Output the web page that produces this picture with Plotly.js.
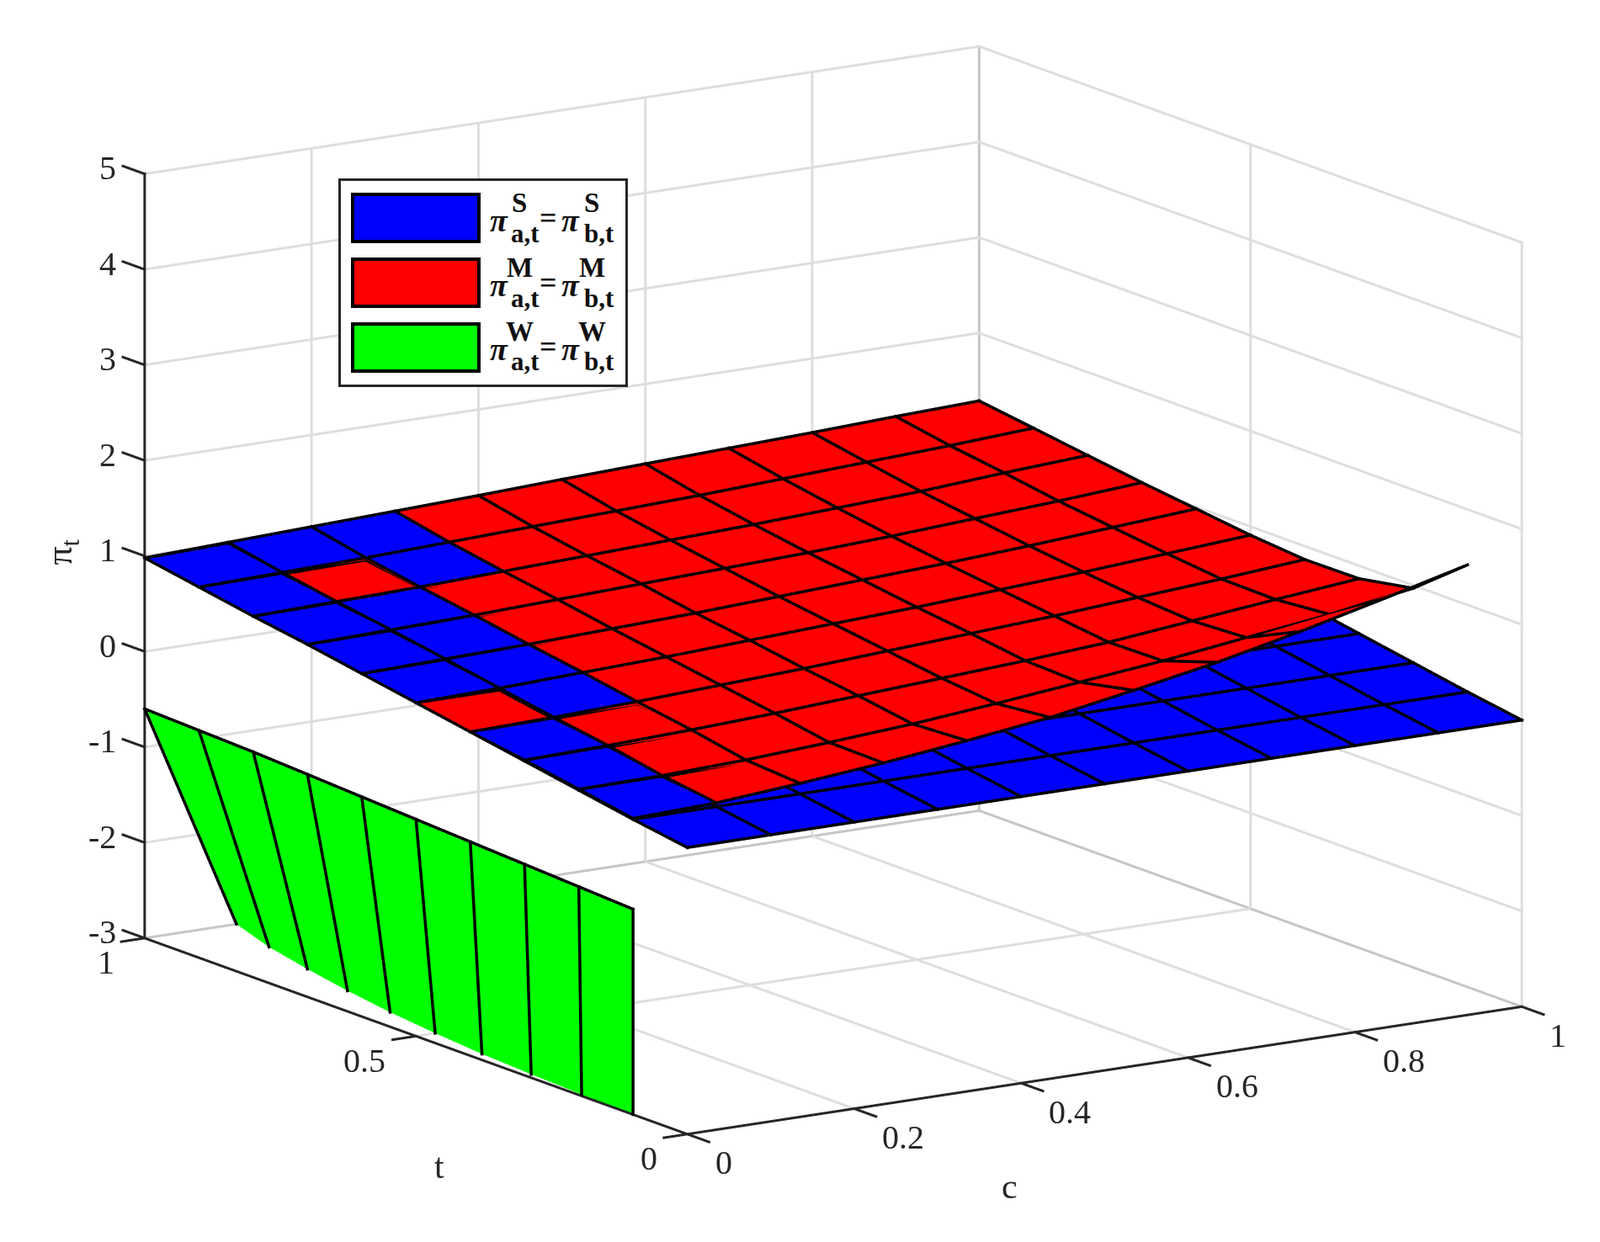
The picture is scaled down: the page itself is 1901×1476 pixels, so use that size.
<!DOCTYPE html>
<html><head><meta charset="utf-8">
<script src="https://cdn.plot.ly/plotly-3.0.1.min.js"></script>
<style>html,body{margin:0;padding:0;background:#fff}#g{width:1901px;height:1476px}</style>
</head><body><div id="g"></div>
<script>
const cVals=[0,0.1,0.2,0.3,0.4,0.5,0.6,0.7,0.8,0.9,1];
const tValsBlue=[0,0.1,0.2,0.3,0.4,0.5,0.6,0.7,0.8,0.9,1];
const tValsRed=[0.1,0.2,0.3,0.4,0.5,0.6,0.7,0.8,0.9,1];
const tValsGreen=[0.1,0.2,0.3,0.4,0.5,0.6,0.7,0.8,0.9,1];
const blueByT=[0,0.09,0.19,0.29,0.39,0.49,0.59,0.69,0.78,0.88,0.98];
const redZ=[
[0.10,0.13,0.20,0.28,0.38,0.49,0.64,0.80,0.99,1.20,1.42],
[0.20,0.21,0.24,0.29,0.35,0.43,0.52,0.61,0.72,0.83,0.97],
[0.30,0.32,0.35,0.39,0.44,0.49,0.54,0.60,0.69,0.78,0.865],
[0.39,0.41,0.44,0.48,0.52,0.57,0.62,0.67,0.73,0.79,0.86],
[0.49,0.51,0.54,0.57,0.61,0.65,0.69,0.74,0.79,0.85,0.91],
[0.59,0.61,0.63,0.66,0.69,0.73,0.77,0.81,0.86,0.92,0.98],
[0.69,0.71,0.73,0.76,0.79,0.82,0.85,0.89,0.94,0.99,1.05],
[0.78,0.80,0.82,0.85,0.88,0.91,0.94,0.98,1.02,1.08,1.13],
[0.88,0.90,0.92,0.95,0.98,1.01,1.04,1.08,1.12,1.16,1.21],
[0.98,1.01,1.04,1.07,1.10,1.135,1.165,1.195,1.225,1.26,1.29]];
// cells [cIndex, tIndex of lower t] where the blue surface shows above the red one
const blueTopCells=[[0,9],[1,9],[2,9],[0,8],[2,8],[0,7],[1,7],[0,6],[1,6],[0,5],[1,5],[1,4],[0,3],[0,2],[0,1]];
const greenZTop=[-0.85,-0.82,-0.79,-0.76,-0.73,-0.70,-0.67,-0.64,-0.62,-0.60];
const greenCBottom=[0,0.0034,0.008,0.014,0.023,0.034,0.048,0.065,0.084,0.11];
const greenZBottom=-3;
const cTicks=[0,0.2,0.4,0.6,0.8,1];
const tTicks=[0,0.5,1];
const zTicks=[-3,-2,-1,0,1,2,3,4,5];
const cLim=[0,1],tLim=[0,1],zLim=[-3,5];

// linear view of the 3D box, used only to give lines a constant on-screen width
const R=[7.08e-4,-4.62e-4,0],U=[0,0,1/113.6],V=[-0.53,-0.815,2.38];
const toScreen=(a,b)=>[990*(b[0]-a[0])-647*(b[1]-a[1]),152*(b[0]-a[0])+233*(b[1]-a[1])+113.6*(b[2]-a[2])];
const lit={ambient:1,diffuse:0,specular:0,roughness:1,fresnel:0};
function ribbon(segs,w,col,lift){
  const x=[],y=[],z=[],i=[],j=[],k=[];
  segs.forEach(([a,b])=>{
    const s=toScreen(a,b),n=Math.hypot(s[0],s[1])||1,ux=s[0]/n,uy=s[1]/n,h=w/2;
    const off=(sx,sy)=>[0,1,2].map(q=>R[q]*sx+U[q]*sy+V[q]*lift);
    const base=x.length;
    const along=[-h*ux,-h*uy],alongB=[h*ux,h*uy],nor=[-uy*h,ux*h];
    [[a,along,1],[a,along,-1],[b,alongB,-1],[b,alongB,1]].forEach(([p,e,sg])=>{
      const o=off(e[0]+sg*nor[0],e[1]+sg*nor[1]);
      x.push(p[0]+o[0]);y.push(p[1]+o[1]);z.push(p[2]+o[2]);
    });
    i.push(base,base);j.push(base+1,base+2);k.push(base+2,base+3);
  });
  return {type:'mesh3d',x,y,z,i,j,k,color:col,flatshading:true,lighting:lit,hoverinfo:'skip',showlegend:false};
}
function gridSegs(X,Y,Z,skipLastCol){
  const out=[],Rn=Z.length,Cn=Z[0].length;
  for(let r=0;r<Rn;r++)for(let q=0;q+1<Cn;q++)out.push([[X[r][q],Y[r][q],Z[r][q]],[X[r][q+1],Y[r][q+1],Z[r][q+1]]]);
  for(let q=0;q<Cn-(skipLastCol?1:0);q++)for(let r=0;r+1<Rn;r++)out.push([[X[r][q],Y[r][q],Z[r][q]],[X[r+1][q],Y[r+1][q],Z[r+1][q]]]);
  return out;
}
const flat=c=>[[0,c],[1,c]];
function surf(x,y,z,col,name){return {type:'surface',x,y,z,name,colorscale:flat(col),showscale:false,lighting:lit,hoverinfo:'skip',cmin:-10,cmax:10};}

const bz=tValsBlue.map((_,i)=>cVals.map(()=>blueByT[i]));
const bx=tValsBlue.map(()=>cVals.slice());
const by=tValsBlue.map(t=>cVals.map(()=>t));
const rx=tValsRed.map(()=>cVals.slice());
const ry=tValsRed.map(t=>cVals.map(()=>t));
const gx=greenCBottom.map(c=>[0,c]);
const gy=tValsGreen.map(t=>[t,t]);
const gz=greenZTop.map(z=>[z,greenZBottom]);
// blue cells on top
const mx=[],my=[],mz=[],mi=[],mj=[],mk=[];
const cellLift=0.006;
blueTopCells.forEach(([ci,ti])=>{
  const b=mx.length;
  [[ci,ti],[ci+1,ti],[ci+1,ti+1],[ci,ti+1]].forEach(([a,d])=>{
    const zz=Math.max(blueByT[d],d>0?redZ[d-1][a]:0);
    mx.push(cVals[a]+V[0]*cellLift);my.push(tValsBlue[d]+V[1]*cellLift);mz.push(zz+V[2]*cellLift);});
  mi.push(b,b);mj.push(b+1,b+2);mk.push(b+2,b+3);
});
// walls, floor, axes
const gridSegsAll=[];
cTicks.forEach(c=>{gridSegsAll.push([[c,tLim[0],zLim[0]],[c,tLim[1],zLim[0]]],[[c,tLim[1],zLim[0]],[c,tLim[1],zLim[1]]]);});
tTicks.forEach(t=>{gridSegsAll.push([[cLim[0],t,zLim[0]],[cLim[1],t,zLim[0]]],[[cLim[1],t,zLim[0]],[cLim[1],t,zLim[1]]]);});
zTicks.forEach(z=>{gridSegsAll.push([[cLim[0],tLim[1],z],[cLim[1],tLim[1],z]],[[cLim[1],tLim[1],z],[cLim[1],tLim[0],z]]);});
const edgeSegs=[
 [[cLim[0],tLim[1],zLim[0]],[cLim[1],tLim[1],zLim[0]]],
 [[cLim[1],tLim[0],zLim[0]],[cLim[1],tLim[1],zLim[0]]],
 [[cLim[1],tLim[1],zLim[0]],[cLim[1],tLim[1],zLim[1]]]];
const axisSegs=[
 [[cLim[0],tLim[0],zLim[0]],[cLim[1],tLim[0],zLim[0]]],
 [[cLim[0],tLim[0],zLim[0]],[cLim[0],tLim[1],zLim[0]]],
 [[cLim[0],tLim[1],zLim[0]],[cLim[0],tLim[1],zLim[1]]]];
const tickSegs=[];
cTicks.forEach(c=>tickSegs.push([[c,tLim[0],zLim[0]],[c,tLim[0]-0.04,zLim[0]]]));
tTicks.forEach(t=>tickSegs.push([[cLim[0],t,zLim[0]],[cLim[0]-0.028,t,zLim[0]]]));
zTicks.forEach(z=>tickSegs.push([[cLim[0],tLim[1],z],[cLim[0],tLim[1]+0.04,z]]));

const data=[
 ribbon(gridSegsAll,3,'#dedede',0),
 ribbon(edgeSegs,3,'#c6c6c6',0.001),
 surf(bx,by,bz,'#0000ff','blue'),
 surf(rx,ry,redZ.map(r=>r.map(v=>v+0.004)),'#ff0000','red'),
 {type:'mesh3d',x:mx,y:my,z:mz,i:mi,j:mj,k:mk,color:'#0000ff',flatshading:true,lighting:lit,hoverinfo:'skip'},
 surf(gx,gy,gz,'#00ff00','green'),
 ribbon(gridSegs(bx,by,bz),3.5,'#000',0.012),
 ribbon(gridSegs(rx,ry,redZ),3.5,'#000',0.02),
 ribbon(gridSegs(gx,gy,gz,true),3.5,'#000',0.012),
 ribbon(axisSegs,3,'#262626',0.004),
 ribbon(tickSegs,3,'#262626',0.004)
];
const ax=(rng,tv)=>({range:rng,autorange:false,tickmode:'array',tickvals:tv,ticktext:tv.map(String),
 title:{text:''},showticklabels:false,showgrid:false,zeroline:false,showline:false,ticks:'',showbackground:false,showspikes:false});
const W=1901,H=1476;
const FONT='Liberation Serif';
const ann=[];
const px=(x,y)=>({xref:'paper',yref:'paper',x:x/W,y:1-y/H});
function box(x0,y0,x1,y1,bg,bc,bw){ann.push(Object.assign(px((x0+x1)/2,(y0+y1)/2),{text:'',showarrow:false,width:x1-x0-bw,height:y1-y0-bw,bgcolor:bg,bordercolor:bc,borderwidth:bw,xanchor:'center',yanchor:'middle',borderpad:0}));}
function txt(x,y,t,sz,col){ann.push(Object.assign(px(x,y),{text:t,showarrow:false,xanchor:'center',yanchor:'middle',font:{family:FONT,size:sz,color:col||'#262626'}}));}
box(403,213,744,458,'#fff','#262626',3);
box(419,231,569,287,'#0000ff','#000',4);
box(419,308,569,364,'#ff0000','#000',4);
box(419,385,569,441,'#00ff00','#000',4);
[['S',262],['M',339],['W',415]].forEach(([s,y])=>{
 const k='#111';
 txt(593,y,'<b><i>π</i></b>',38,k);txt(617,y-21,'<b>'+s+'</b>',33,k);txt(624,y+15,'<b>a,t</b>',31,k);txt(651,y-3,'<b>=</b>',36,k);
 txt(678,y,'<b><i>π</i></b>',38,k);txt(703,y-21,'<b>'+s+'</b>',33,k);txt(712,y+15,'<b>b,t</b>',31,k);
});
const sa=[];
const lab=(x,y,z,text,anchor,xs,ys,sz)=>sa.push({x,y,z,text,showarrow:false,xanchor:anchor,yanchor:'middle',xshift:xs,yshift:ys,font:{family:FONT,size:sz,color:'#262626'}});
cTicks.forEach(c=>lab(c,tLim[0],zLim[0],String(c),'left',31,-34,40));
tTicks.forEach(t=>lab(cLim[0],t,zLim[0],String(t),'right',-34,-29,40));
zTicks.forEach(z=>lab(cLim[0],tLim[1],z,String(z),'right',-32,7,40));
lab(0.5,tLim[0],zLim[0],'c','center',-113,-138,42);
lab(cLim[0],0.5,zLim[0],'t','center',28,-155,42);
sa.push({x:cLim[0],y:tLim[1],z:1,text:'π<sub>t</sub>',showarrow:false,textangle:-90,xanchor:'center',yanchor:'middle',xshift:-98,yshift:5,font:{family:FONT,size:44,color:'#262626'}});
const d=[-0.530,-0.815,0.235],L=1.182;
const Z=1.686;
const layout={width:W,height:H,margin:{l:0,r:0,t:0,b:0},paper_bgcolor:'#fff',showlegend:false,annotations:ann,
 scene:{domain:{x:[0.0416,1],y:[0.0496,1]},aspectmode:'manual',aspectratio:{x:1.1*Z,y:1.1*Z,z:0.80975*Z},annotations:sa,
  camera:{projection:{type:'orthographic'},eye:{x:d[0]*L,y:d[1]*L,z:d[2]*L},center:{x:0,y:0,z:0},up:{x:0,y:0,z:1}},
  xaxis:ax([-0.05,1.05],cTicks),
  yaxis:ax([-0.05,1.05],tTicks),
  zaxis:ax([-3.1,5.1],zTicks)}};
Plotly.newPlot('g',data,layout,{displayModeBar:false});
</script></body></html>
